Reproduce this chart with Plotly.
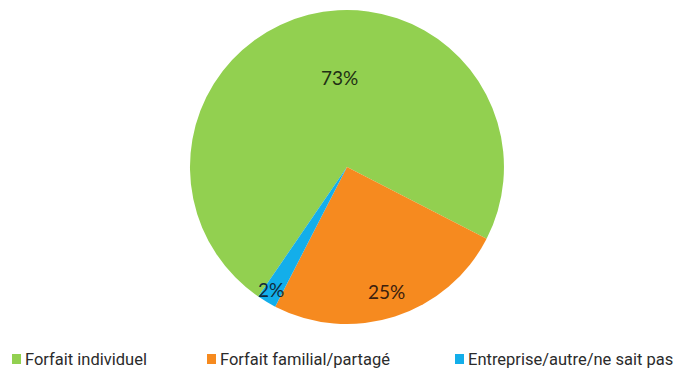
import math
import plotly.graph_objects as go

labels = ["Forfait individuel", "Forfait familial/partagé", "Entreprise/autre/ne sait pas"]
values = [73, 25, 2]
colors = ["#92D050", "#F68A1F", "#13AEEA"]
text_colors = ["#1f2f14", "#3b200e", "#0f2a3c"]

W, H = 679, 376
FONT = "Lato, sans-serif"
LEGEND_FONT = "Roboto, Lato, sans-serif"

# pie placement (paper fractions) and start angle
dom_x = [0.022, 1.0]
dom_y = [0.1383, 0.9734]
rotation = 214.4

# per-slice label placement: fraction of radius, extra angle (deg, clockwise)
label_radius = [0.57, 0.83, 0.92]
label_shift = [9.7, 0.0, 1.0]

# legend layout: swatch left edge (px) for each entry
legend_left = [12, 207, 455]
legend_y = 359

fig = go.Figure()
fig.add_trace(go.Pie(
    labels=labels,
    values=values,
    sort=False,
    direction="clockwise",
    rotation=rotation,
    marker=dict(colors=colors, line=dict(width=0)),
    textinfo="none",
    domain=dict(x=dom_x, y=dom_y),
    showlegend=False,
    hoverinfo="label+percent",
))

# percentage labels placed from the slice angles
cx = (dom_x[0] + dom_x[1]) / 2 * W
cy = (1 - (dom_y[0] + dom_y[1]) / 2) * H
R = min((dom_x[1] - dom_x[0]) * W, (dom_y[1] - dom_y[0]) * H) / 2
total = sum(values)
start = rotation
for v, tc, rf, sh in zip(values, text_colors, label_radius, label_shift):
    span = v / total * 360
    mid = math.radians(start + span / 2 + sh)
    px = cx + rf * R * math.sin(mid)
    py = cy - rf * R * math.cos(mid)
    fig.add_annotation(
        x=px / W, y=1 - py / H, xref="paper", yref="paper",
        text=f"{v}%", showarrow=False,
        xanchor="center", yanchor="middle",
        font=dict(family=FONT, size=19, color=tc),
    )
    start += span

# legend: colour swatches with their labels
for lab, col, left in zip(labels, colors, legend_left):
    fig.add_shape(
        type="rect", xref="paper", yref="paper",
        x0=left / W, x1=(left + 9) / W,
        y0=1 - (legend_y + 5) / H, y1=1 - (legend_y - 5) / H,
        fillcolor=col, line=dict(width=0),
    )
    fig.add_annotation(
        x=(left + 11) / W, y=1 - legend_y / H, xref="paper", yref="paper",
        text=lab, showarrow=False, xanchor="left", yanchor="middle",
        font=dict(family=LEGEND_FONT, size=16.5, color="#2b2b2b"),
    )

fig.update_layout(
    width=W, height=H,
    margin=dict(l=0, r=0, t=0, b=0),
    paper_bgcolor="white", plot_bgcolor="white",
    xaxis=dict(visible=False), yaxis=dict(visible=False),
    showlegend=False,
)

fig.write_html("out.html")
